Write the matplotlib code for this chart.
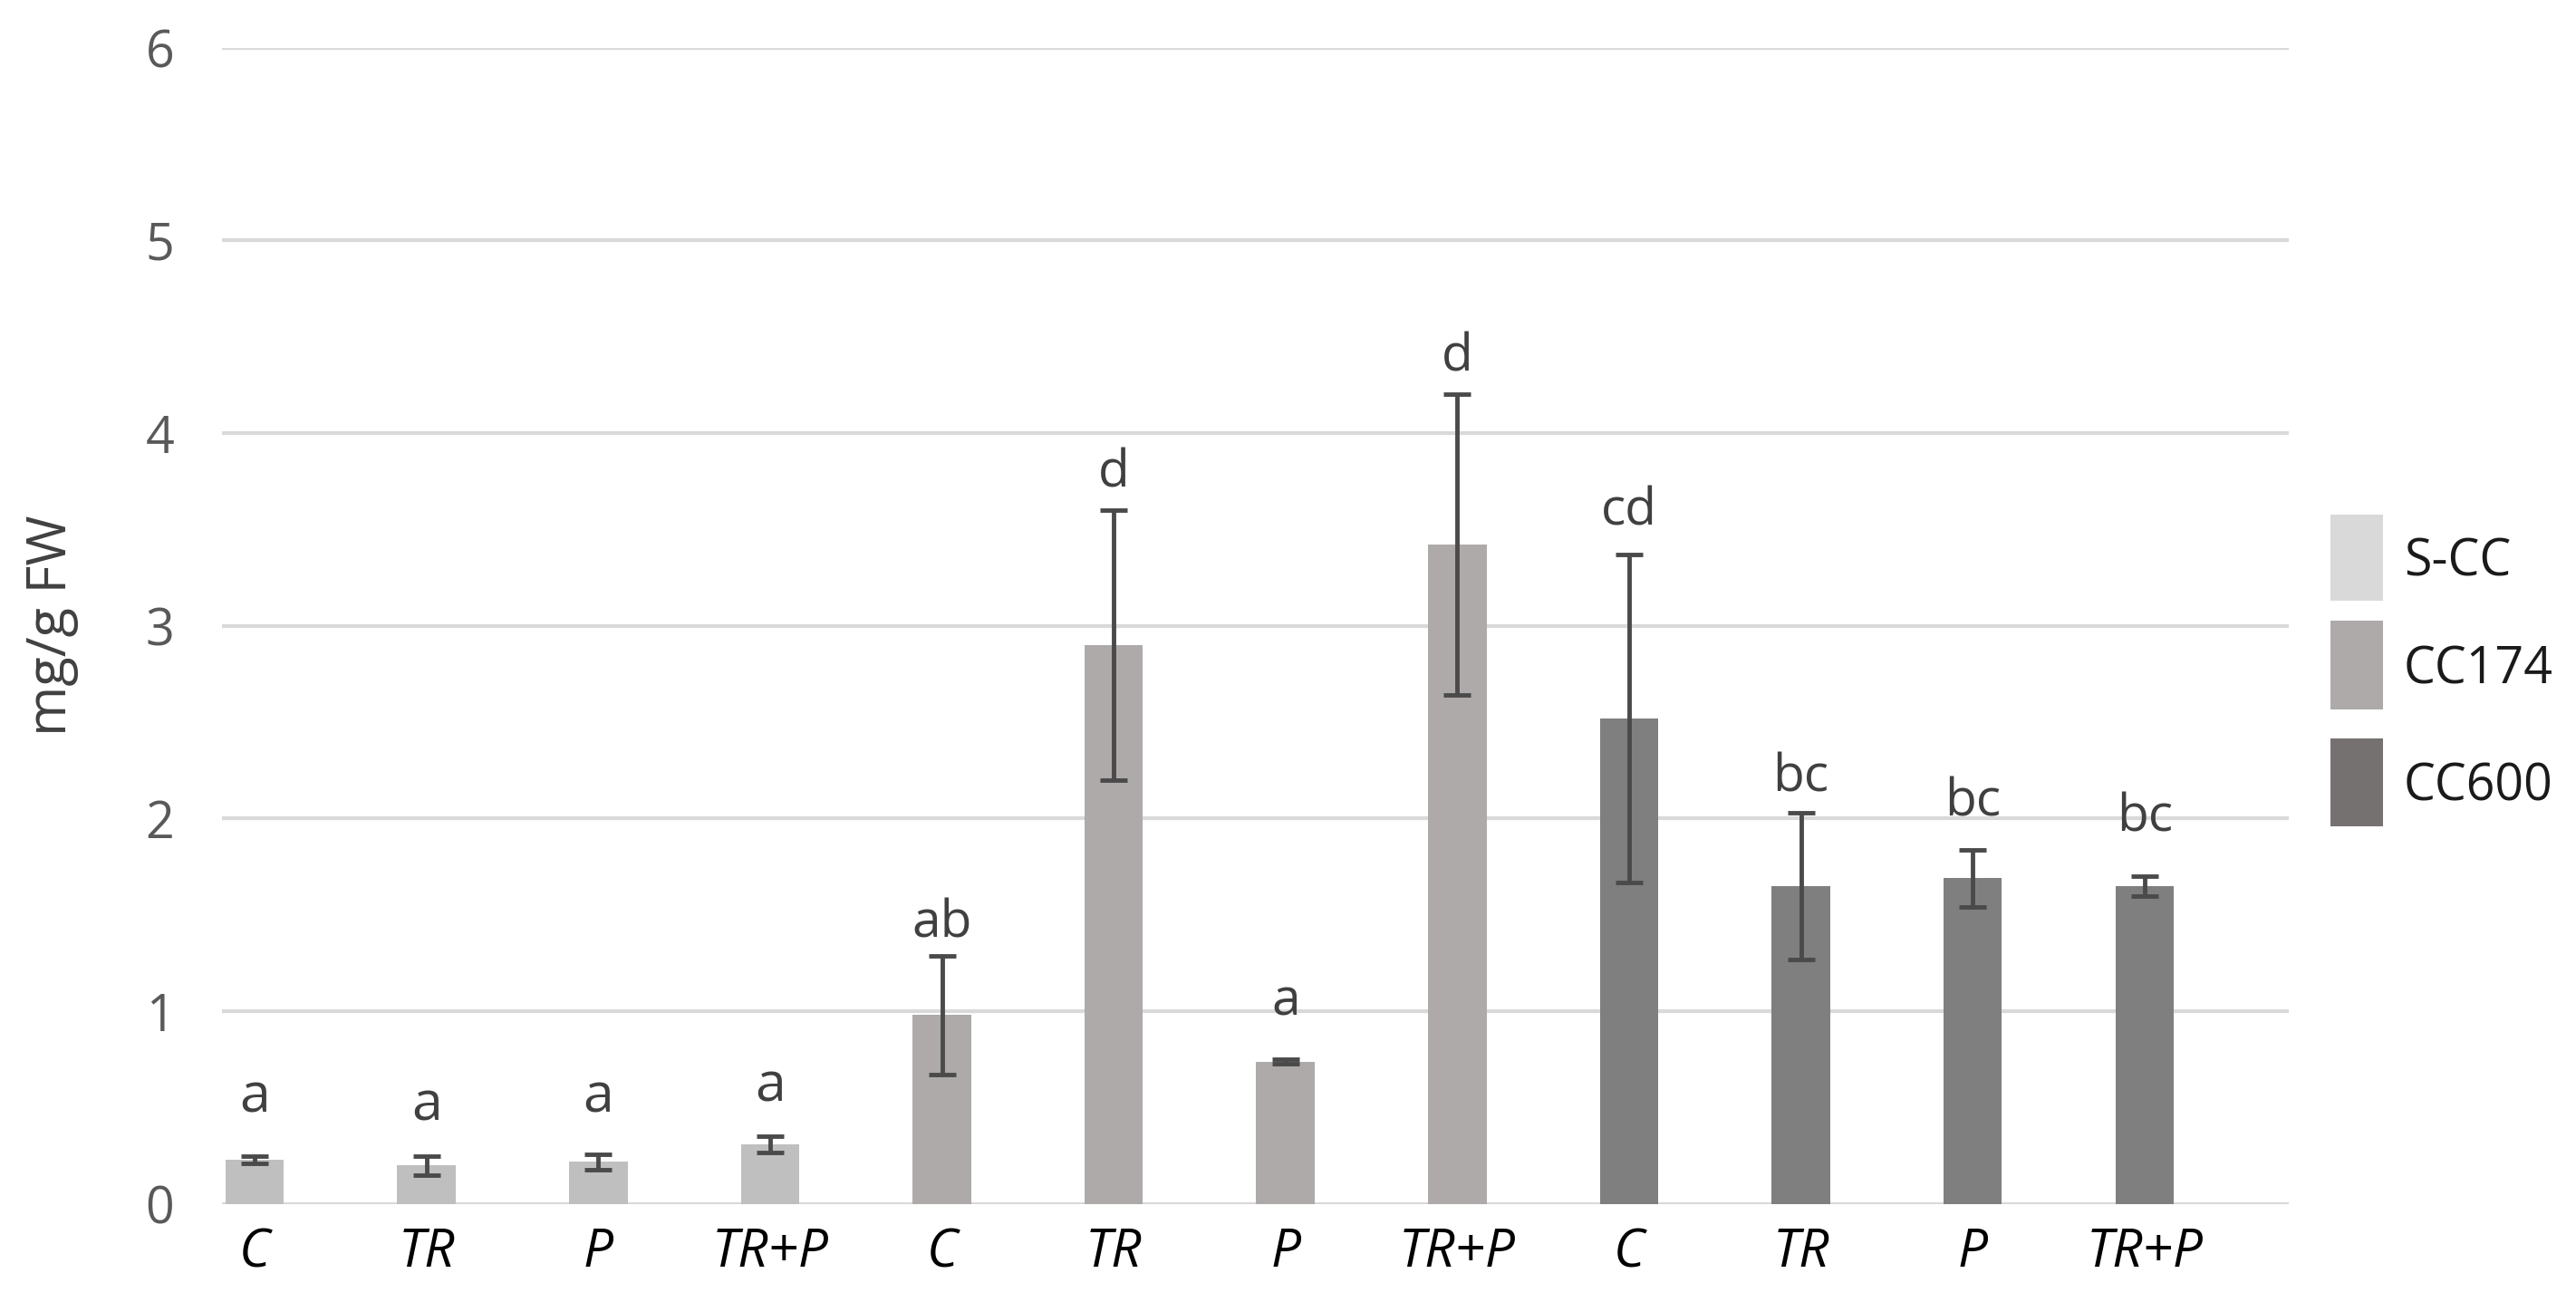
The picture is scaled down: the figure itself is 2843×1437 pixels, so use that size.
import matplotlib
matplotlib.use("Agg")
import matplotlib.pyplot as plt
from matplotlib.patches import Rectangle
import numpy as np

plt.rcParams['font.family'] = ['Open Sans', 'DejaVu Sans']

# data
groups = ['S-CC', 'CC174', 'CC600']
treatments = ['C', 'TR', 'P', 'TR+P']
values = {
    'S-CC': [0.23, 0.20, 0.22, 0.31],
    'CC174': [0.98, 2.90, 0.74, 3.42],
    'CC600': [2.52, 1.65, 1.69, 1.65],
}
errors = {
    'S-CC': [0.02, 0.05, 0.04, 0.04],
    'CC174': [0.31, 0.70, 0.01, 0.78],
    'CC600': [0.85, 0.38, 0.15, 0.05],
}
letters = {
    'S-CC': ['a', 'a', 'a', 'a'],
    'CC174': ['ab', 'd', 'a', 'd'],
    'CC600': ['cd', 'bc', 'bc', 'bc'],
}
letter_y = {
    'S-CC': [0.55, 0.51, 0.55, 0.61],
    'CC174': [1.45, 3.79, 1.05, 4.39],
    'CC600': [3.59, 2.21, 2.08, 2.00],
}
bar_colors = {'S-CC': '#bfbfbf', 'CC174': '#aeaaaa', 'CC600': '#7f7f7f'}
legend_colors = {'S-CC': '#d9d9d9', 'CC174': '#aeaaaa', 'CC600': '#767171'}

W, H = 2843, 1437
fig = plt.figure(figsize=(W / 100, H / 100), dpi=100)
ax = fig.add_axes([0.0862, 0.0752, 0.8023, 0.8882])

tick_labels = []
pos = 0
for g in groups:
    x = np.arange(pos, pos + len(treatments))
    ax.bar(x, values[g], width=0.34, color=bar_colors[g], zorder=2)
    ax.errorbar(x, values[g], yerr=errors[g], fmt='none', ecolor='#4a4a4a',
                elinewidth=3.5, capsize=11, capthick=3.5, zorder=3)
    fs = 44 if g == 'S-CC' else 41
    for xi, t, ly in zip(x, letters[g], letter_y[g]):
        ax.text(xi, ly, t, ha='center', va='center', fontsize=fs, color='#404040')
    tick_labels += treatments
    pos += len(treatments)

ax.set_xticks(np.arange(pos))
ax.set_xticklabels(tick_labels, fontsize=42, style='italic', color='black')
ax.set_xlim(-0.19, 11.84)
ax.set_ylim(0, 6)
ax.set_yticks(range(7))
ax.tick_params(axis='y', labelsize=40, labelcolor='#595959', length=0, pad=38)
ax.tick_params(axis='x', length=0, pad=18)
ax.yaxis.grid(True, color='#d9d9d9', lw=3, zorder=0)
ax.set_axisbelow(True)
for s in ax.spines.values():
    s.set_visible(False)

fig.text(57 / W, 0.52, 'mg/g FW', rotation=90, ha='center', va='center',
         fontsize=43, color='#404040')

# legend, drawn by hand to match the spacing of the original
rows = [(568, 663), (685, 783), (815, 912)]
for g, (top, bottom) in zip(groups, rows):
    fig.add_artist(Rectangle((2572 / W, 1 - bottom / H), 58 / W, (bottom - top) / H,
                             transform=fig.transFigure, facecolor=legend_colors[g],
                             edgecolor='none'))
    fig.text(2653 / W, 1 - ((top + bottom) / 2 + 6) / H, g, ha='left', va='center',
             fontsize=40, color='#1a1a1a')

fig.savefig('out.png', dpi=100)
